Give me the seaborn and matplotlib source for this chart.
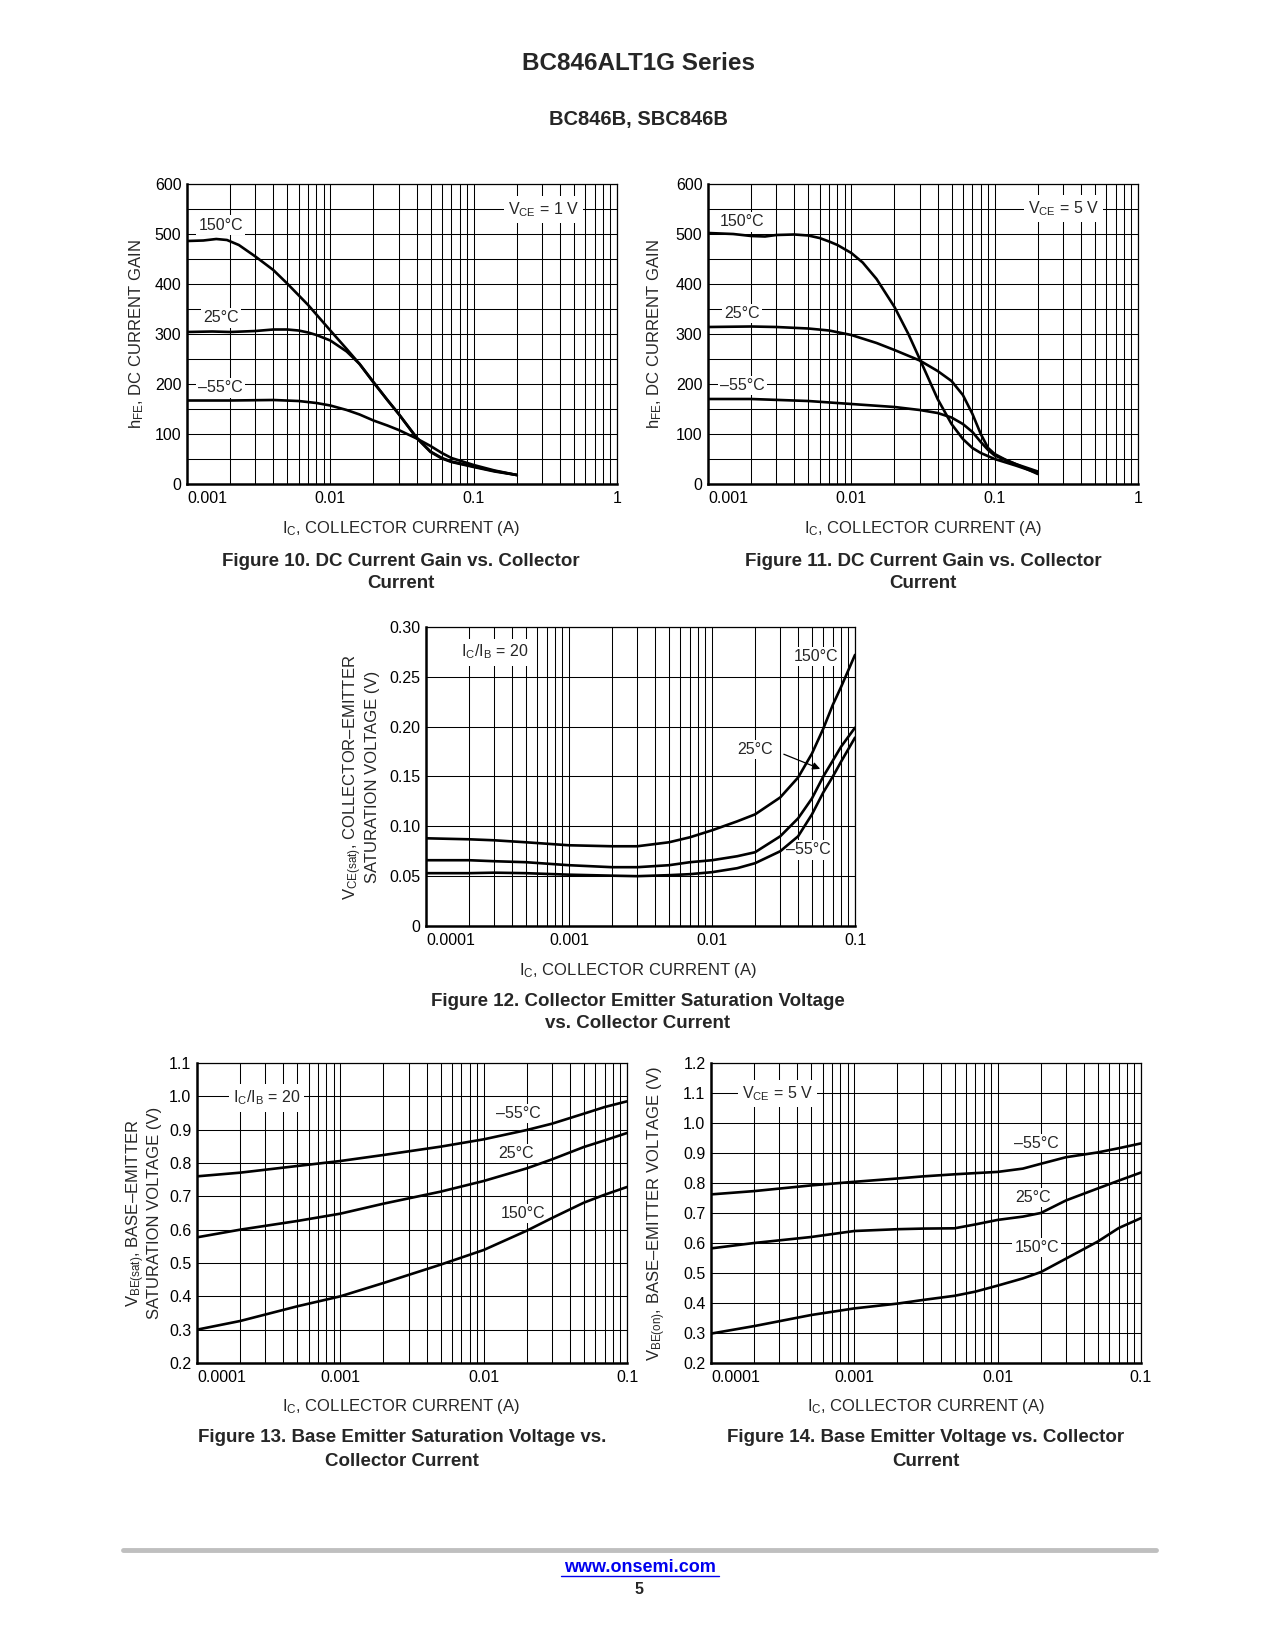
import numpy as np
import pandas as pd
import matplotlib
matplotlib.use("Agg")
import matplotlib.pyplot as plt
import seaborn as sns
from matplotlib.ticker import FixedLocator, LogLocator, NullFormatter
from matplotlib.lines import Line2D

# ---- data ----
# Figure 10 : hFE vs Ic, VCE = 1 V
f10_x_150 = [0.001, 0.0013, 0.0016, 0.0019, 0.0023, 0.003, 0.004, 0.005, 0.007, 0.01, 0.013,
             0.016, 0.02, 0.025, 0.03, 0.04, 0.05, 0.06, 0.07, 0.1, 0.14, 0.2]
f10_y_150 = [486, 487, 490, 488, 478, 455, 428, 401, 358, 307, 270, 240, 203, 168, 140, 92, 64,
             51, 44, 34, 25, 18]
f10_x_25 = [0.001, 0.0015, 0.002, 0.003, 0.004, 0.005, 0.006, 0.007, 0.008, 0.01, 0.013, 0.016,
            0.02, 0.025, 0.03, 0.04, 0.05, 0.06, 0.07, 0.1, 0.14, 0.2]
f10_y_25 = [304, 305, 304, 306, 309, 309, 307, 303, 298, 287, 265, 240, 204, 168, 140, 93, 65,
            52, 45, 35, 26, 18]
f10_x_m55 = [0.001, 0.002, 0.004, 0.006, 0.008, 0.01, 0.013, 0.016, 0.02, 0.025, 0.03, 0.04,
             0.05, 0.06, 0.07, 0.1, 0.14, 0.2]
f10_y_m55 = [167, 167, 168, 166, 162, 157, 148, 139, 127, 117, 108, 91, 76, 62, 52, 38, 27, 18]

# Figure 11 : hFE vs Ic, VCE = 5 V
f11_x_150 = [0.001, 0.0015, 0.002, 0.0025, 0.003, 0.004, 0.005, 0.006, 0.007, 0.008, 0.01,
             0.012, 0.015, 0.02, 0.025, 0.03, 0.04, 0.05, 0.06, 0.07, 0.08, 0.1, 0.14, 0.2]
f11_y_150 = [502, 500, 496, 495, 498, 499, 497, 492, 485, 478, 462, 443, 410, 354, 300, 250,
             170, 120, 90, 72, 62, 50, 37, 22]
f11_x_25 = [0.001, 0.002, 0.003, 0.005, 0.007, 0.01, 0.015, 0.02, 0.03, 0.04, 0.05, 0.06,
            0.07, 0.08, 0.09, 0.1, 0.12, 0.14, 0.2]
f11_y_25 = [314, 315, 314, 311, 307, 298, 282, 268, 247, 226, 206, 178, 140, 100, 72, 60, 48,
            40, 25]
f11_x_m55 = [0.001, 0.002, 0.005, 0.01, 0.02, 0.03, 0.04, 0.05, 0.06, 0.07, 0.08, 0.09, 0.1,
             0.14, 0.2]
f11_y_m55 = [170, 170, 166, 160, 154, 148, 142, 133, 120, 104, 84, 68, 57, 40, 20]

# Figure 12 : VCE(sat) vs Ic
f12_x = [0.0001, 0.0002, 0.0003, 0.0005, 0.001, 0.002, 0.003, 0.005, 0.007, 0.01, 0.015,
         0.02, 0.03, 0.04, 0.05, 0.06, 0.07, 0.08, 0.1]
f12_y_150 = [0.088, 0.087, 0.086, 0.084, 0.081, 0.080, 0.080, 0.084, 0.089, 0.096, 0.105,
             0.112, 0.129, 0.149, 0.173, 0.198, 0.222, 0.240, 0.272]
f12_y_25 = [0.066, 0.066, 0.065, 0.064, 0.061, 0.059, 0.059, 0.061, 0.064, 0.066, 0.070,
            0.074, 0.090, 0.108, 0.128, 0.150, 0.166, 0.180, 0.199]
f12_y_m55 = [0.053, 0.053, 0.0535, 0.053, 0.0515, 0.0505, 0.050, 0.051, 0.052, 0.054, 0.058,
             0.063, 0.075, 0.090, 0.112, 0.134, 0.150, 0.165, 0.189]

# Figure 13 : VBE(sat) vs Ic
f13_x = [0.0001, 0.0002, 0.0005, 0.001, 0.002, 0.005, 0.01, 0.02, 0.03, 0.05, 0.07, 0.1]
f13_y_m55 = [0.760, 0.771, 0.791, 0.806, 0.824, 0.849, 0.871, 0.899, 0.918, 0.948, 0.968, 0.985]
f13_y_25 = [0.577, 0.600, 0.626, 0.648, 0.678, 0.714, 0.746, 0.784, 0.811, 0.848, 0.868, 0.890]
f13_y_150 = [0.300, 0.326, 0.370, 0.400, 0.440, 0.495, 0.539, 0.597, 0.635, 0.681, 0.705, 0.728]

# Figure 14 : VBE(on) vs Ic
f14_x = [0.0001, 0.0002, 0.0005, 0.001, 0.002, 0.003, 0.005, 0.007, 0.01, 0.015, 0.02, 0.03,
         0.05, 0.07, 0.1]
f14_y_m55 = [0.762, 0.773, 0.792, 0.804, 0.815, 0.822, 0.829, 0.833, 0.837, 0.848, 0.864,
             0.886, 0.902, 0.916, 0.932]
f14_y_25 = [0.582, 0.600, 0.620, 0.640, 0.646, 0.648, 0.649, 0.662, 0.677, 0.688, 0.700,
            0.742, 0.782, 0.808, 0.835]
f14_y_150 = [0.298, 0.323, 0.360, 0.382, 0.398, 0.410, 0.424, 0.438, 0.458, 0.482, 0.503,
             0.548, 0.605, 0.650, 0.683]

# axis ticks
x_ticks_a = [0.001, 0.01, 0.1, 1]
x_labels_a = ["0.001", "0.01", "0.1", "1"]
x_ticks_b = [0.0001, 0.001, 0.01, 0.1]
x_labels_b = ["0.0001", "0.001", "0.01", "0.1"]
hfe_ticks = [0, 100, 200, 300, 400, 500, 600]
vce_ticks = [0, 0.05, 0.10, 0.15, 0.20, 0.25, 0.30]
vce_labels = ["0", "0.05", "0.10", "0.15", "0.20", "0.25", "0.30"]
vbesat_ticks = [0.2, 0.3, 0.4, 0.5, 0.6, 0.7, 0.8, 0.9, 1.0, 1.1]
vbeon_ticks = [0.2, 0.3, 0.4, 0.5, 0.6, 0.7, 0.8, 0.9, 1.0, 1.1, 1.2]

# ---- style ----
sns.set_style("white")
plt.rcParams["font.family"] = ["Liberation Sans", "DejaVu Sans"]
plt.rcParams["mathtext.fontset"] = "custom"
plt.rcParams["mathtext.rm"] = "Liberation Sans"
plt.rcParams["mathtext.it"] = "Liberation Sans:italic"
plt.rcParams["mathtext.bf"] = "Liberation Sans:bold"

W, H = 1275, 1650
fig = plt.figure(figsize=(W / 100, H / 100), dpi=100)
fig.patch.set_facecolor("white")


def px_axes(l, t, r, b):
    return fig.add_axes([l / W, 1 - b / H, (r - l) / W, (b - t) / H])


def ftext(x, y, s, **kw):
    fig.text(x / W, 1 - y / H, s, **kw)


def setup(ax, xlim, ylim, xticks, xlabels, yticks, ylabels, yminor):
    ax.set_xscale("log")
    ax.set_xlim(xlim)
    ax.set_ylim(ylim)
    ax.xaxis.set_major_locator(FixedLocator(xticks))
    ax.xaxis.set_minor_locator(LogLocator(base=10, subs=np.arange(2, 10), numticks=20))
    ax.xaxis.set_minor_formatter(NullFormatter())
    ax.set_xticklabels(xlabels)
    ax.set_yticks(yticks)
    ax.set_yticklabels(ylabels)
    ax.set_yticks(yminor, minor=True)
    ax.grid(True, which="both", color="black", lw=0.75)
    ax.set_axisbelow(True)
    ax.tick_params(which="both", length=0, labelsize=11.5, colors="black")
    ax.tick_params(axis="x", pad=5)
    ax.tick_params(axis="y", pad=4)
    for side in ["left", "bottom"]:
        ax.spines[side].set_linewidth(1.8)
        ax.spines[side].set_color("black")
    for side in ["top", "right"]:
        ax.spines[side].set_linewidth(0.9)
        ax.spines[side].set_color("black")
    ax.get_xticklabels()[0].set_horizontalalignment("left")
    ax.set_xlabel("")
    ax.set_ylabel("")


def draw_curves(ax, curves):
    df = pd.concat([pd.DataFrame({"ic": cx, "v": cy, "temp": name})
                    for name, (cx, cy) in curves.items()])
    sns.lineplot(data=df, x="ic", y="v", units="temp", estimator=None, color="black",
                 lw=1.9, ax=ax, legend=False, zorder=4)


def lab(ax, x, y, s, pad=1.5):
    ax.text(x, y, s, ha="center", va="center", fontsize=11.5, zorder=3,
            bbox=dict(fc="white", ec="none", pad=pad))


xlab = "I$_{\\mathrm{C}}$, COLLECTOR CURRENT (A)"

# ---- Figure 10 ----
ax10 = px_axes(187, 184, 617, 484)
draw_curves(ax10, {"150": (f10_x_150, f10_y_150), "25": (f10_x_25, f10_y_25),
                   "-55": (f10_x_m55, f10_y_m55)})
setup(ax10, (0.001, 1), (0, 600), x_ticks_a, x_labels_a, hfe_ticks,
      [str(v) for v in hfe_ticks], np.arange(0, 601, 50))
lab(ax10, 0.00172, 518, "150°C")
lab(ax10, 0.00172, 332, "25°C")
lab(ax10, 0.00172, 192, "–55°C")
lab(ax10, 0.306, 549, "V$_{\\mathrm{CE}}$ = 1 V", pad=3)
ftext(137, 334, "h$_{\\mathrm{FE}}$, DC CURRENT GAIN", rotation=90, ha="center", va="center", fontsize=12)
ftext(401, 529, xlab, ha="center", va="center", fontsize=12)
ftext(401, 562, "Figure 10. DC Current Gain vs. Collector", ha="center", va="center",
      fontsize=13.5, fontweight="bold")
ftext(401, 583, "Current", ha="center", va="center", fontsize=13.5, fontweight="bold")

# ---- Figure 11 ----
ax11 = px_axes(708, 184, 1138, 484)
draw_curves(ax11, {"150": (f11_x_150, f11_y_150), "25": (f11_x_25, f11_y_25),
                   "-55": (f11_x_m55, f11_y_m55)})
setup(ax11, (0.001, 1), (0, 600), x_ticks_a, x_labels_a, hfe_ticks,
      [str(v) for v in hfe_ticks], np.arange(0, 601, 50))
lab(ax11, 0.00173, 524, "150°C")
lab(ax11, 0.00173, 341, "25°C")
lab(ax11, 0.00173, 197, "–55°C")
lab(ax11, 0.303, 551, "V$_{\\mathrm{CE}}$ = 5 V", pad=3)
ftext(655, 334, "h$_{\\mathrm{FE}}$, DC CURRENT GAIN", rotation=90, ha="center", va="center", fontsize=12)
ftext(923, 529, xlab, ha="center", va="center", fontsize=12)
ftext(923, 562, "Figure 11. DC Current Gain vs. Collector", ha="center", va="center",
      fontsize=13.5, fontweight="bold")
ftext(923, 583, "Current", ha="center", va="center", fontsize=13.5, fontweight="bold")

# ---- Figure 12 ----
ax12 = px_axes(426, 627, 855, 926)
draw_curves(ax12, {"150": (f12_x, f12_y_150), "25": (f12_x, f12_y_25),
                   "-55": (f12_x, f12_y_m55)})
setup(ax12, (0.0001, 0.1), (0, 0.30), x_ticks_b, x_labels_b, vce_ticks, vce_labels, vce_ticks)
lab(ax12, 0.000302, 0.2748, "I$_{\\mathrm{C}}$/I$_{\\mathrm{B}}$ = 20", pad=3)
lab(ax12, 0.0535, 0.2705, "150°C")
lab(ax12, 0.0201, 0.1767, "25°C")
lab(ax12, 0.0475, 0.0763, "–55°C")
ax12.annotate("", xy=(0.0595, 0.1566), xytext=(0.0305, 0.1734),
              arrowprops=dict(arrowstyle="-|>", color="black", lw=0.9, mutation_scale=11),
              zorder=5)
ftext(353, 777, "V$_{\\mathrm{CE(sat)}}$, COLLECTOR–EMITTER", rotation=90, ha="center",
      va="center", fontsize=12)
ftext(372, 777, "SATURATION VOLTAGE (V)", rotation=90, ha="center", va="center", fontsize=12)
ftext(638, 970, xlab, ha="center", va="center", fontsize=12)
ftext(638, 1002, "Figure 12. Collector Emitter Saturation Voltage", ha="center", va="center",
      fontsize=13.5, fontweight="bold")
ftext(638, 1023, "vs. Collector Current", ha="center", va="center", fontsize=13.5,
      fontweight="bold")

# ---- Figure 13 ----
ax13 = px_axes(197, 1063, 627, 1363)
draw_curves(ax13, {"150": (f13_x, f13_y_150), "25": (f13_x, f13_y_25),
                   "-55": (f13_x, f13_y_m55)})
setup(ax13, (0.0001, 0.1), (0.2, 1.1), x_ticks_b, x_labels_b, vbesat_ticks,
      ["%.1f" % v for v in vbesat_ticks], vbesat_ticks)
lab(ax13, 0.000305, 0.995, "I$_{\\mathrm{C}}$/I$_{\\mathrm{B}}$ = 20", pad=3)
lab(ax13, 0.0174, 0.948, "–55°C")
lab(ax13, 0.0167, 0.828, "25°C")
lab(ax13, 0.0189, 0.649, "150°C")
ftext(136, 1213, "V$_{\\mathrm{BE(sat)}}$, BASE–EMITTER", rotation=90, ha="center",
      va="center", fontsize=12)
ftext(155, 1213, "SATURATION VOLTAGE (V)", rotation=90, ha="center", va="center", fontsize=12)
ftext(401, 1407, xlab, ha="center", va="center", fontsize=12)
ftext(402, 1438, "Figure 13. Base Emitter Saturation Voltage vs.", ha="center", va="center",
      fontsize=13.5, fontweight="bold")
ftext(402, 1461, "Collector Current", ha="center", va="center", fontsize=13.5,
      fontweight="bold")

# ---- Figure 14 ----
ax14 = px_axes(711, 1063, 1141, 1363)
draw_curves(ax14, {"150": (f14_x, f14_y_150), "25": (f14_x, f14_y_25),
                   "-55": (f14_x, f14_y_m55)})
setup(ax14, (0.0001, 0.1), (0.2, 1.2), x_ticks_b, x_labels_b, vbeon_ticks,
      ["%.1f" % v for v in vbeon_ticks], vbeon_ticks)
lab(ax14, 0.00029, 1.098, "V$_{\\mathrm{CE}}$ = 5 V", pad=3)
lab(ax14, 0.0186, 0.932, "–55°C")
lab(ax14, 0.0176, 0.752, "25°C")
lab(ax14, 0.0187, 0.586, "150°C")
ftext(657, 1214, "V$_{\\mathrm{BE(on)}}$, BASE–EMITTER VOLTAGE (V)", rotation=90,
      ha="center", va="center", fontsize=12)
ftext(926, 1407, xlab, ha="center", va="center", fontsize=12)
ftext(926, 1438, "Figure 14. Base Emitter Voltage vs. Collector", ha="center", va="center",
      fontsize=13.5, fontweight="bold")
ftext(926, 1461, "Current", ha="center", va="center", fontsize=13.5, fontweight="bold")

# ---- page header / footer ----
ftext(638, 63, "BC846ALT1G Series", ha="center", va="center", fontsize=17.5, fontweight="bold")
ftext(638, 120, "BC846B, SBC846B", ha="center", va="center", fontsize=14.5, fontweight="bold")
fig.add_artist(Line2D([123 / W, 1156 / W], [1 - 1550 / H, 1 - 1550 / H], lw=3.5,
                      color="#bfbfbf", solid_capstyle="round"))
ftext(640, 1567, "www.onsemi.com", ha="center", va="center", fontsize=13, fontweight="bold",
      color="#0000ee")
fig.add_artist(Line2D([561 / W, 719 / W], [1 - 1576 / H, 1 - 1576 / H], lw=1.0, color="#0000ee"))
ftext(639, 1589, "5", ha="center", va="center", fontsize=11.5, fontweight="bold")

fig.savefig("out.png", dpi=100, facecolor="white")
